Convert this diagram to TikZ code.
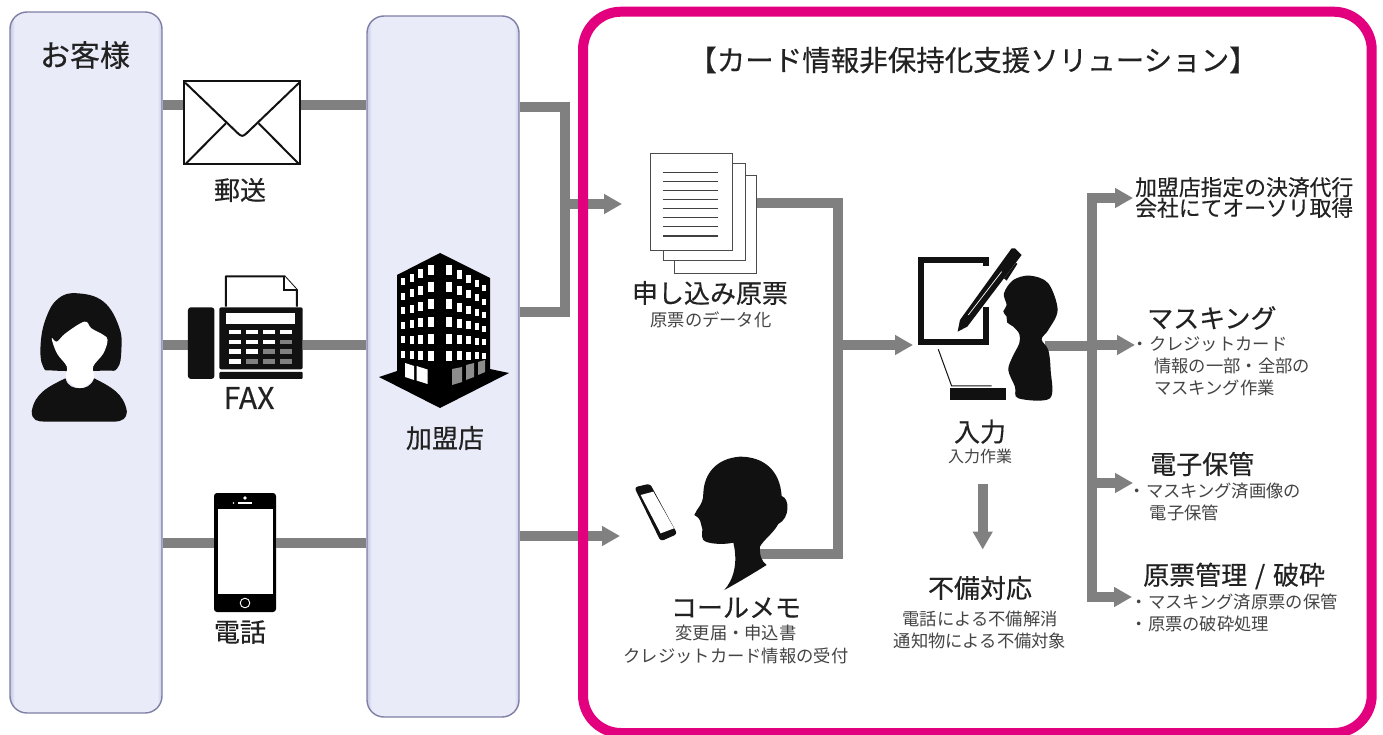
\documentclass[tikz,border=0pt]{standalone}
\usepackage{fontspec}
\setmainfont{Noto Sans CJK JP}
\newfontfamily\headf{Noto Sans CJK JP}[FakeBold=0.35]
\usetikzlibrary{arrows.meta}
\definecolor{wirec}{HTML}{808080}
\definecolor{pinkc}{HTML}{E2007F}
\definecolor{panelc}{HTML}{E9EBF9}
\definecolor{panelshadow}{HTML}{C4C7E3}
\definecolor{paneledge}{HTML}{7F7FA6}
\definecolor{inkc}{HTML}{111111}
\definecolor{headc}{HTML}{222222}
\definecolor{subc}{HTML}{444444}
\pgfdeclarehorizontalshading{panelshade}{100bp}{color(0bp)=(panelshadow); color(25bp)=(panelshadow); color(26.5bp)=(panelc); color(73.5bp)=(panelc); color(75bp)=(panelshadow); color(100bp)=(panelshadow)}
\newcommand{\fs}[1]{\headf\fontsize{#1}{#1}\selectfont}
\newcommand{\fsb}[2]{\fontsize{#1}{#2}\selectfont}
\tikzset{
  panel/.style={rectangle,draw=paneledge,line width=1.4pt,shading=panelshade,shading angle=0,rounded corners=17pt,minimum width=152pt,minimum height=701pt,inner sep=0pt},
  wire/.style={draw=wirec,line width=10pt,line join=miter},
  tipwire/.style={wire,-{Triangle[length=18pt,width=19pt]}},
  head/.style={text=headc,inner sep=0pt,font=\fs{26}},
  subtext/.style={text=subc,inner sep=0pt,align=center,font=\fsb{17.3}{22.5}},
  sublist/.style={text=subc,inner sep=0pt,align=left,anchor=west,font=\fsb{17.3}{22}},
  ghost/.style={inner sep=0pt,rectangle},
  sheet/.style={rectangle,draw=black!70,line width=1pt,fill=white,minimum width=82pt,minimum height=97pt,inner sep=0pt},
  textline/.style={draw=black!75,line width=1.1pt},
}
\begin{document}
\begin{tikzpicture}[x=1pt,y=-1pt]
\useasboundingbox (0,0) rectangle (1383,735);
\fill[white] (0,0) rectangle (1383,735);

% panels
\node[panel] (cust) at (86,362.5) {};
\node[panel] (shop) at (443,366.5) {};
\node[text=headc,inner sep=0pt,font=\fs{30}] (custlabel) at (85,55) {お客様};
\node[head] (shoplabel) at (445,438) {加盟店};

% rows used by the connectors
\coordinate (mailrow) at (0,105);
\coordinate (faxrow) at (0,345);
\coordinate (telrow) at (0,543);
\coordinate (shoptop) at (0,107);
\coordinate (shopmid) at (0,312);
\coordinate (shoplow) at (0,536);
\coordinate (hubL) at (564.5,0);
\coordinate (docrow) at (0,204);
\coordinate (docin) at (622,204);
\coordinate (callin) at (620,536);
\coordinate (busM) at (838,0);
\coordinate (busout) at (0,203);
\coordinate (calljoin) at (745,554);
\coordinate (inputin) at (913,345);
\coordinate (personout) at (1045,346);
\coordinate (busR) at (1091.5,0);
\coordinate (outA) at (1133,198);
\coordinate (outB) at (1135,345);
\coordinate (outC) at (1133,483);
\coordinate (outD) at (1132,597);
\coordinate (downfrom) at (982.7,484);
\coordinate (downto) at (982.7,549.5);

% icon nodes
\node[ghost,draw=inkc,line width=2pt,fill=white,minimum width=116pt,minimum height=83pt] (env) at (242,123) {};
\node[ghost,minimum width=115pt,minimum height=72pt] (fax) at (245.5,343) {};
\node[rectangle,fill=black,rounded corners=3pt,minimum width=62pt,minimum height=119pt,inner sep=0pt] (tel) at (245,552.5) {};
\node[sheet] (sheet3) at (715.5,224.5) {};
\node[sheet] (sheet2) at (704.3,212) {};
\node[sheet] (sheet1) at (691.7,202) {};

% connectors
\draw[wire] (cust.east |- mailrow) -- (env.west |- mailrow);
\draw[wire] (env.east |- mailrow) -- (shop.west |- mailrow);
\draw[wire] (cust.east |- faxrow) -- (fax.west |- faxrow);
\draw[wire] (fax.east |- faxrow) -- (shop.west |- faxrow);
\draw[wire] (cust.east |- telrow) -- (tel.west |- telrow);
\draw[wire] (tel.east |- telrow) -- (shop.west |- telrow);
\draw[wire] (shop.east |- shoptop) -- (hubL |- shoptop) -- (hubL |- shopmid) -- (shop.east |- shopmid);
\draw[tipwire] (hubL |- docrow) -- (docin);
\draw[tipwire] (shop.east |- shoplow) -- (callin);
\draw[wire] (sheet3.east |- busout) -- (busM |- busout) -- (busM |- calljoin) -- (calljoin);
\draw[tipwire] (busM |- inputin) -- (inputin);
\draw[wire] (personout) -- (busR |- personout);
\draw[wire,line cap=rect] (busR |- outA) -- (busR |- outD);
\draw[tipwire] (busR |- outA) -- (outA);
\draw[tipwire] (busR |- outB) -- (outB);
\draw[tipwire] (busR |- outC) -- (outC);
\draw[tipwire] (busR |- outD) -- (outD);
\draw[tipwire] (downfrom) -- (downto);

% pink frame
\draw[pinkc,line width=10pt,rounded corners=38pt] (583,11.7) rectangle (1371.7,733);

% envelope
\begin{scope}[x=0.3448pt,y=-0.3333pt]
  \draw[inkc,line width=2pt,line join=round] (537,248) -- (690,400) .. controls (700,410) and (705,410) .. (715,400) -- (868,248);
  \draw[inkc,line width=2pt] (540,490) -- (655,370) (865,490) -- (750,370);
\end{scope}

% fax
\begin{scope}[x=0.3448pt,y=-0.3333pt]
  \fill[inkc,rounded corners=3pt] (545,922) rectangle (622,1137);
  \fill[inkc,rounded corners=2pt] (636,922) rectangle (878,1108);
  \fill[inkc,rounded corners=1pt] (636,1116) rectangle (878,1137);
  \draw[inkc,line width=2pt,fill=white,line join=round] (655,920) -- (655,829) -- (825,829) -- (861,870) -- (861,920);
  \draw[inkc,line width=2pt,fill=white] (825,829) -- (825,870) -- (861,870);
  \fill[white] (656,940) rectangle (855,972);
  \foreach \ky/\kh/\na/\nb/\nc/\nd in {990/12/white/white/white/white,1020/12/white/white/white/gray,1048/14/white/white/gray/gray,1078/14/white/gray/gray/gray}{
    \fill[\na] (665,\ky) rectangle ++(35,\kh);
    \fill[\nb] (713,\ky) rectangle ++(35,\kh);
    \fill[\nc] (762,\ky) rectangle ++(36,\kh);
    \fill[\nd] (812,\ky) rectangle ++(36,\kh);
  }
\end{scope}

% phone
\fill[white] (218,509) rectangle (272.5,594);
\fill[white] (245,498) circle (1.9pt);
\fill[white] (233.5,503) circle (.9pt);
\draw[white,line width=1.2pt] (238,503) -- (252,503);
\draw[white,line width=.9pt] (245,603) circle (4.8pt);

% customer silhouette
\begin{scope}[x=0.3448pt,y=-0.3333pt]
  \fill[inkc] plot[smooth cycle,tension=.7] coordinates {(225,880) (300,905) (345,980) (352,1050) (340,1105) (300,1112) (160,1112) (125,1100) (118,1030) (135,950) (170,895)};
  \fill[white] plot[smooth cycle,tension=.6] coordinates {(190,1000) (245,965) (265,985) (300,1005) (312,1020) (300,1060) (270,1100) (272,1135) (232,1165) (192,1135) (194,1100) (165,1060) (150,1015) (165,1025)};
  \fill[inkc] (190,1135) .. controls (140,1160) and (100,1180) .. (92,1235) .. controls (92,1262) and (110,1265) .. (130,1265) -- (330,1265) .. controls (355,1265) and (368,1255) .. (368,1235) .. controls (360,1180) and (320,1160) .. (273,1135) .. controls (265,1160) and (245,1165) .. (232,1165) .. controls (215,1165) and (195,1160) .. (190,1135) -- cycle;
\end{scope}

% building
\begin{scope}
  \fill[black] (440,253) -- (490,278) -- (490,369) -- (509,373) -- (440,408) -- (379,377) -- (397,371) -- (397,275) -- cycle;
  \foreach \ci/\cx/\cw in {0/401/3.5,1/409.5/4.5,2/418/5,3/428/6}{
    \foreach \rj in {0,...,5}{
      \pgfmathsetmacro{\uu}{\ci/3}
      \pgfmathsetmacro{\yt}{(1-\uu)*(278+\rj*14.6)+\uu*(265+\rj*17.2)}
      \pgfmathsetmacro{\hh}{7+3*\uu}
      \fill[white] (\cx,\yt) rectangle ++(\cw,\hh);
    }
  }
  \foreach \ci/\cx/\cw in {0/445.5/6,1/457/5,2/466/4.5,3/475/4,4/482/3.5}{
    \foreach \rj in {0,...,5}{
      \pgfmathsetmacro{\uu}{\ci/4}
      \pgfmathsetmacro{\yt}{(1-\uu)*(265+\rj*17.2)+\uu*(285+\rj*13.5)}
      \pgfmathsetmacro{\hh}{10-4*\uu}
      \fill[white] (\cx,\yt) rectangle ++(\cw,\hh);
    }
  }
  \fill[white] (405,363) -- (414,366) -- (414,380) -- (405,377) -- cycle;
  \fill[white] (416.5,366) -- (427.5,369.5) -- (427.5,384) -- (416.5,380.5) -- cycle;
  \fill[black!45] (452,369) -- (462,367) -- (462,382) -- (452,385) -- cycle;
  \fill[black!45] (466,365) -- (474,363) -- (474,377) -- (466,380) -- cycle;
  \fill[black!45] (478,362) -- (485,360) -- (485,372) -- (478,375) -- cycle;
\end{scope}

% document lines
\foreach \ly in {172.3,181.3,190.3,199.7,208.7,217.7,226.7,236}{
  \draw[textline] (662.7,\ly) -- (718.3,\ly);
}

% input operator (zoom coordinates)
\begin{scope}[shift={(600,130)},x=0.3333pt,y=-0.3333pt]
  \draw[inkc,line width=6pt,line join=miter] (1158,408) -- (1158,389) -- (964,389) -- (964,637) -- (1158,637) -- (1158,530);
  \fill[inkc] (1073,605) -- (1080,570) -- (1235,355) -- (1245,355) -- (1265,375) -- (1102,590) -- cycle;
  \fill[inkc] (1212,445) -- (1248,398) -- (1252,402) -- (1220,452) -- cycle;
  \draw[white,line width=.7pt] (1105,555) -- (1205,425);
  \draw[inkc,line width=1pt] (1015,658) -- (1055,768) -- (1175,768);
  \fill[inkc] (1050,775) rectangle (1218,810);
  \fill[inkc] plot[smooth cycle,tension=.55] coordinates {(1290,437) (1345,460) (1373,540) (1345,600) (1325,628) (1345,660) (1352,720) (1350,805) (1255,805) (1245,770) (1225,720) (1238,680) (1258,640) (1258,612) (1240,590) (1222,578) (1220,560) (1210,545) (1220,525) (1212,490) (1240,450)};
\end{scope}

% call operator
\begin{scope}[shift={(600,440)},x=0.3333pt,y=-0.3333pt]
  \fill[inkc,rounded corners=3pt] (103,142) -- (150,131) -- (232,282) -- (182,304) -- cycle;
  \fill[white] (122,165) -- (160,155) -- (222,265) -- (182,280) -- cycle;
  \fill[inkc] (420,50) .. controls (490,50) and (540,90) .. (545,168) .. controls (570,175) and (570,235) .. (535,252) .. controls (520,280) and (490,300) .. (480,320) .. controls (478,345) and (485,365) .. (500,375) .. controls (460,400) and (410,430) .. (373,450) .. controls (400,420) and (415,370) .. (400,308) .. controls (370,315) and (320,312) .. (310,300) .. controls (300,280) and (312,270) .. (305,260) .. controls (300,245) and (305,238) .. (283,225) .. controls (290,205) and (310,195) .. (310,160) .. controls (312,100) and (350,55) .. (420,50) -- cycle;
\end{scope}

% labels
\node[head] (mail) at (240,190) {郵送};
\node[head,font=\fs{30}] (faxl) at (249,398) {FAX};
\node[head] (tell) at (240,632) {電話};
\node[inner sep=0pt,text=headc,font=\fs{28.5}] (title) at (973,60) {【カード情報非保持化支援ソリューション】};
\node[head] (doct) at (710,293) {申し込み原票};
\node[subtext] (docs) at (711,320) {原票のデータ化};
\node[head] (inputt) at (980,431.7) {入力};
\node[subtext,font=\fontsize{16}{16}\selectfont] (inputs) at (980,456.7) {入力作業};
\node[head] (callt) at (736,607.7) {コールメモ};
\node[subtext] (calls) at (736,644.5) {変更届・申込書\\クレジットカード情報の受付};
\node[head] (fixt) at (980,588) {不備対応};
\node[subtext] (fixs) at (980,630) {電話による不備解消\\通知物による不備対象};
\node[text=headc,inner sep=0pt,align=left,anchor=west,font=\headf\fontsize{21.8}{20.7}\selectfont] (auth) at (1135,197.5) {加盟店指定の決済代行\\会社にてオーソリ取得};
\node[head,anchor=west] (maskt) at (1147,318) {マスキング};
\node[sublist] (masks) at (1131.5,366) {・クレジットカード\\\hspace*{22.5pt}情報の一部・全部の\\\hspace*{22.5pt}マスキング作業};
\node[head,anchor=west] (savet) at (1150,464) {電子保管};
\node[sublist] (saves) at (1128.5,501.5) {・マスキング済画像の\\\hspace*{21pt}電子保管};
\node[head,anchor=west] (archt) at (1143,576) {原票管理\hspace{2pt} / \hspace{2pt}破砕};
\node[sublist] (archs) at (1130.5,612.5) {・マスキング済原票の保管\\・原票の破砕処理};
\end{tikzpicture}
\end{document}
